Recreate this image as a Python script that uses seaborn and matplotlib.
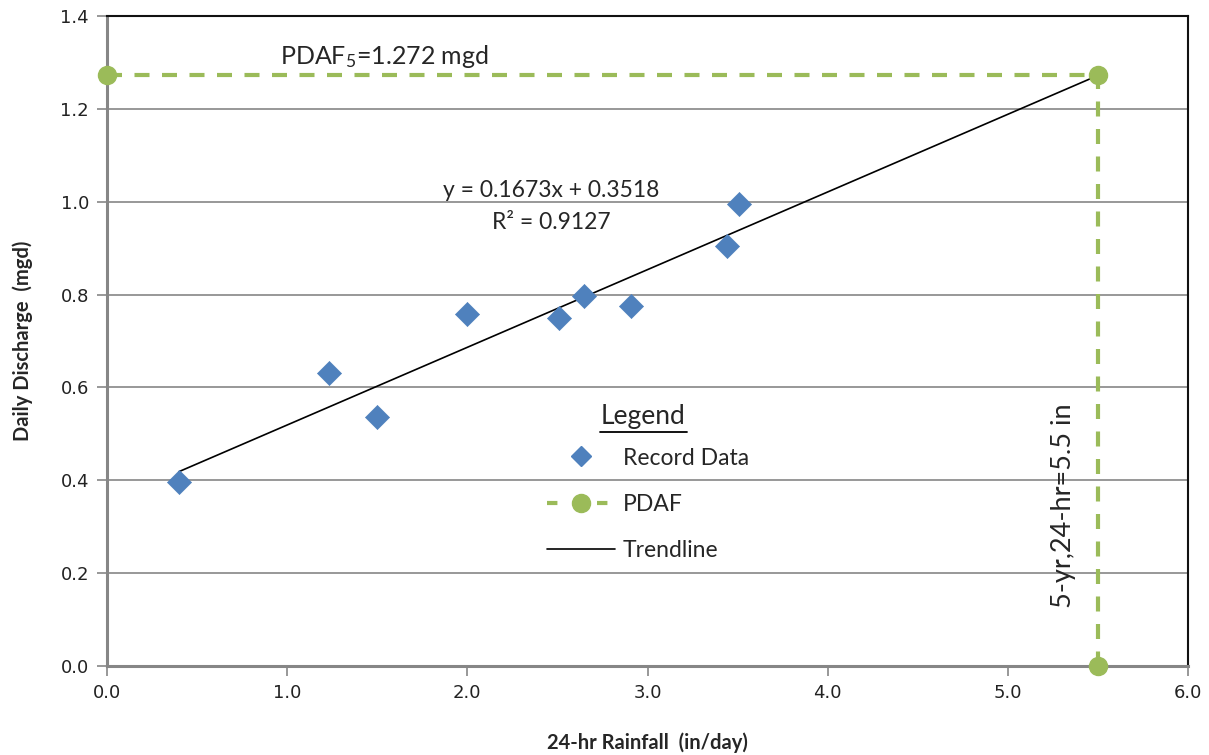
import matplotlib
matplotlib.use("Agg")
import matplotlib.pyplot as plt
from matplotlib.lines import Line2D
import seaborn as sns
import pandas as pd
import numpy as np

# ---- data ----
rain = [0.40, 1.23, 1.50, 2.00, 2.51, 2.65, 2.91, 3.44, 3.51]
discharge = [0.396, 0.632, 0.536, 0.758, 0.750, 0.796, 0.776, 0.905, 0.995]
trend_slope = 0.1673
trend_intercept = 0.3518
trend_x = [0.40, 5.5]
pdaf_x = [0.0, 5.5, 5.5]
pdaf_y = [1.272, 1.272, 0.0]
x_ticks = [0.0, 1.0, 2.0, 3.0, 4.0, 5.0, 6.0]
y_ticks = [0.0, 0.2, 0.4, 0.6, 0.8, 1.0, 1.2, 1.4]

df = pd.DataFrame({"rain": rain, "discharge": discharge})
trend_y = [trend_slope * v + trend_intercept for v in trend_x]

sns.set_theme(style="white")
plt.rcParams['font.family'] = ['Lato', 'DejaVu Sans']
plt.rcParams['mathtext.fontset'] = 'custom'
plt.rcParams['mathtext.rm'] = 'Lato'
plt.rcParams['mathtext.it'] = 'Lato'

fig = plt.figure(figsize=(12.09, 7.55), dpi=100)
ax = fig.add_axes([107/1209, 1-666/755, (1188-107)/1209, (666-16)/755])

GREEN = "#9BBB59"
BLUE = "#4F81BD"
GRAY = "#868686"

ax.set_xlim(0, 6)
ax.set_ylim(0, 1.4)
ax.set_yticks(y_ticks)
ax.set_xticks(x_ticks)
ax.set_yticklabels([f"{v:.1f}" for v in y_ticks], family="DejaVu Sans", fontsize=13, color="#222222")
ax.set_xticklabels([f"{v:.1f}" for v in x_ticks], family="DejaVu Sans", fontsize=13, color="#222222")
ax.yaxis.grid(True, color=GRAY, linewidth=1.2)
ax.set_axisbelow(True)

for s in ["left", "bottom"]:
    ax.spines[s].set_color(GRAY)
    ax.spines[s].set_linewidth(2.2)
for s in ["top", "right"]:
    ax.spines[s].set_color("#111111")
    ax.spines[s].set_linewidth(1.5)
    ax.spines[s].set_visible(True)
ax.tick_params(axis="both", direction="out", length=7, width=1.2, color=GRAY, pad=6)
ax.tick_params(left=True, bottom=True)

# trendline
sns.lineplot(x=trend_x, y=trend_y, ax=ax, color="black", linewidth=1.2, zorder=3)

# PDAF line
ax.plot(pdaf_x, pdaf_y, color=GREEN, linewidth=3, dashes=(3.6, 3.0), marker="o",
        markersize=13, markerfacecolor=GREEN, markeredgecolor=GREEN, clip_on=False, zorder=4)

# record data
sns.scatterplot(data=df, x="rain", y="discharge", ax=ax, marker="D", s=150, color=BLUE,
                edgecolor=BLUE, linewidth=0.5, zorder=5, legend=False)

ax.set_xlabel("24-hr Rainfall  (in/day)", fontsize=14.5, fontweight="bold", labelpad=22)
ax.set_ylabel("Daily Discharge  (mgd)", fontsize=14.5, fontweight="bold", labelpad=20)

# annotations
ax.text(0.96, 1.283, r"PDAF$_5$=1.272 mgd", fontsize=18, va="bottom", ha="left")
ax.text(2.465, 1.025, "y = 0.1673x + 0.3518", fontsize=16.5, ha="center", va="center")
ax.text(2.465, 0.955, "R² = 0.9127", fontsize=16.5, ha="center", va="center")
ax.text(5.31, 0.345, "5-yr,24-hr=5.5 in", fontsize=19.5, rotation=90, ha="center", va="center")

# legend
ax.text(2.975, 0.538, "Legend", fontsize=19, ha="center", va="center")
ax.plot([2.735, 3.22], [0.503, 0.503], color="black", linewidth=1.3)

handles = [
    Line2D([], [], linestyle="none", marker="D", markersize=10, color=BLUE),
    Line2D([], [], color=GREEN, linewidth=3, dashes=(2.5, 3.5), marker="o", markersize=13),
    Line2D([], [], color="black", linewidth=1.2),
]
labels = ["Record Data", "PDAF", "Trendline"]
leg = ax.legend(handles, labels, loc="upper left", bbox_to_anchor=(2.33, 0.515),
                bbox_transform=ax.transData, frameon=False, fontsize=16.5,
                handlelength=2.95, labelspacing=1.1, handletextpad=0.35)

fig.savefig("out.png", dpi=100)
